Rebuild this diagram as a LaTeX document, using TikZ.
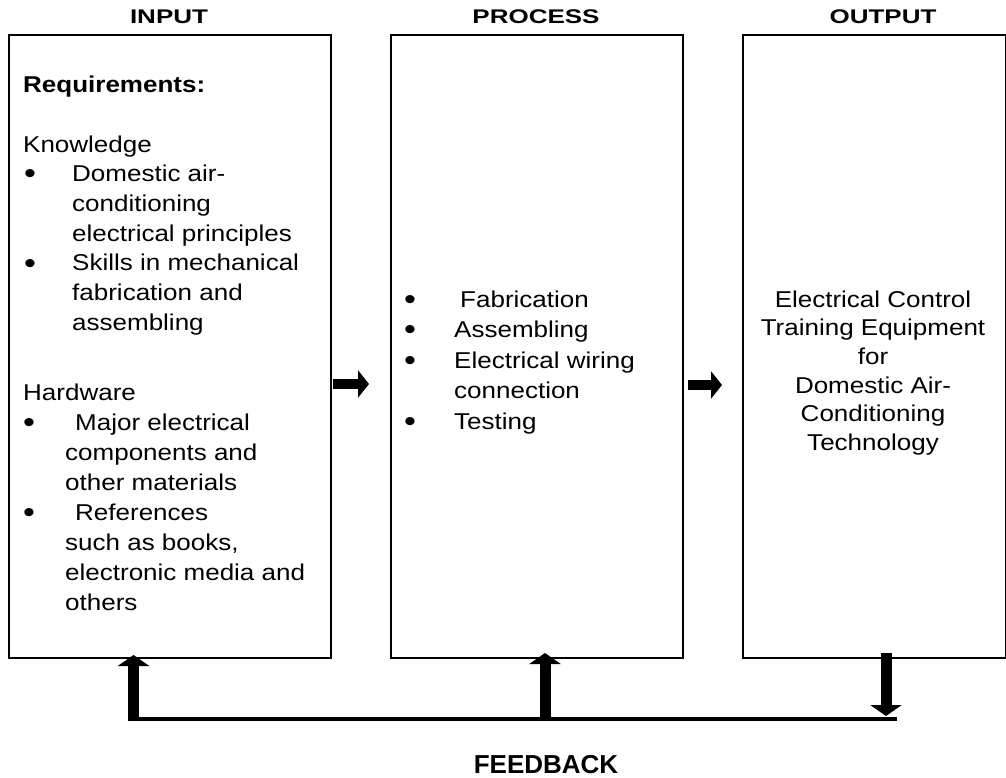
\documentclass[tikz,border=0pt]{standalone}
\usepackage{fontspec}
\setmainfont{Liberation Sans}
\usetikzlibrary{arrows.meta}
\newcommand{\vsq}[1]{\scalebox{1}[0.88]{#1}}
\newcommand{\hsq}[1]{\scalebox{1}[0.76]{#1}}
\newcommand{\bul}{\raisebox{-2.5pt}{\fontsize{34}{34}\selectfont\textbullet}}
\newcommand{\bk}{\makebox[49pt][l]{\hspace*{1pt}\bul}}
\newcommand{\ck}{\hspace*{49pt}}
\newcommand{\bh}{\makebox[52pt][l]{\hspace*{0pt}\bul}}
\newcommand{\chh}{\hspace*{42pt}}
\newcommand{\bp}{\makebox[50pt][l]{\bul}}
\begin{document}
\begin{tikzpicture}[x=1pt,y=-1pt,
  box/.style={draw,line width=2.2pt,inner sep=0pt,anchor=north west},
  head/.style={font=\bfseries\fontsize{26}{30}\selectfont,anchor=base,inner sep=0pt},
  txt/.style={font=\fontsize{26}{33.3}\selectfont,anchor=base west,inner sep=0pt},
  fat/.style={line width=10pt,-{Triangle[length=11pt,width=27pt]}},
  fatv/.style={line width=11pt,-{Triangle[length=11pt,width=31pt]}},
  loopline/.style={line width=3.5pt}]
\useasboundingbox (0,0) rectangle (1006,777);
\fill[white] (0,0) rectangle (1006,777);
% boxes
\node[box,minimum width=322pt,minimum height=623pt] (inbox) at (8,34) {};
\node[box,minimum width=292pt,minimum height=623pt] (procbox) at (390,34) {};
\node[box,minimum width=263pt,minimum height=623pt] (outbox) at (742,34) {};
% headings
\node[head] (hin) at (169,23) {\hsq{INPUT}};
\node[head] (hproc) at (536,23) {\hsq{PROCESS}};
\node[head] (hout) at (883,23) {\hsq{OUTPUT}};
\node[head] (hfb) at (546,773) {FEEDBACK};
% input text
\node[txt] (req) at (23,92) {\vsq{\textbf{Requirements:}}};
\node[txt] (know) at (23,152) {\vsq{\parbox[t]{300pt}{\fontsize{26}{33.75}\selectfont
Knowledge\\
\bk Domestic air-\\
\ck conditioning\\
\ck electrical principles\\
\bk Skills in mechanical\\
\ck fabrication and\\
\ck assembling}}};
\node[txt] (hard) at (23,400) {\vsq{\parbox[t]{300pt}{\fontsize{26}{34.1}\selectfont
Hardware\\
\bh Major electrical\\
\chh components and\\
\chh other materials\\
\bh References\\
\chh such as books,\\
\chh electronic media and\\
\chh others}}};
% process text
\node[txt] (proc) at (404,307) {\vsq{\parbox[t]{280pt}{\fontsize{26}{34.7}\selectfont
\bp\hspace*{6pt}Fabrication\\
\bp Assembling\\
\bp Electrical wiring\\
\hspace*{50pt}connection\\
\bp Testing}}};
% output text
\node[font=\fontsize{26}{33.3}\selectfont,anchor=base,inner sep=0pt] (outtxt) at (873,307) {\vsq{\parbox[t]{260pt}{\centering\fontsize{26}{32.6}\selectfont
Electrical Control\\
Training Equipment\\
for\\
Domestic Air-\\
Conditioning\\
Technology}}};
% arrows between boxes
\coordinate (a1s) at (333,384);
\coordinate (a1e) at (369,384);
\coordinate (a2s) at (688,385);
\coordinate (a2e) at (722,385);
\draw[fat] (a1s) -- (a1e);
\draw[fat] (a2s) -- (a2e);
% feedback loop
\coordinate (fL) at (133.5,719);
\coordinate (fLt) at (133.5,655);
\coordinate (fM) at (545,717);
\coordinate (fMt) at (545,653);
\coordinate (fRs) at (886,653);
\coordinate (fRt) at (886,716);
\coordinate (lineL) at (128,719);
\coordinate (lineR) at (897,719);
\draw[loopline] (lineL) -- (lineR);
\draw[fatv] ([yshift=1.7pt]fL) -- (fLt);
\draw[fatv] (fM) -- (fMt);
\draw[fatv] (fRs) -- (fRt);
\end{tikzpicture}
\end{document}
